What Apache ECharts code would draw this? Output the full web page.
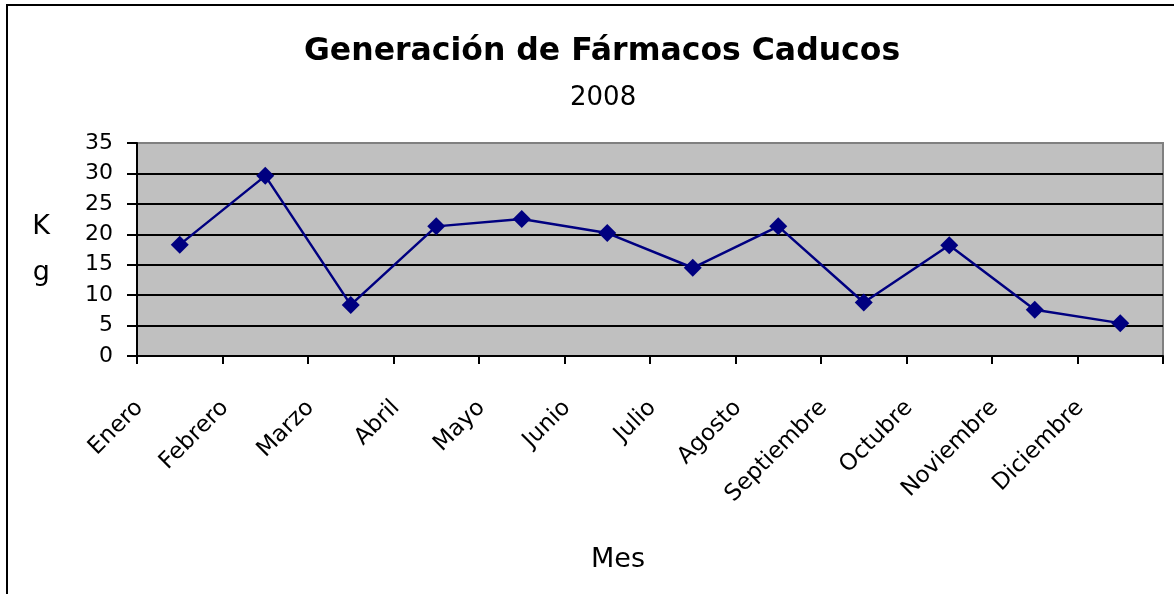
<!DOCTYPE html>
<html>
<head>
<meta charset="utf-8">
<script src="https://cdn.jsdelivr.net/npm/echarts@6/dist/echarts.min.js"></script>
<style>
  html, body { margin: 0; padding: 0; background: #fff; }
  #chart { width: 1174px; height: 594px; }
</style>
</head>
<body>
<div id="chart"></div>
<script>
// datos
var months = ['Enero', 'Febrero', 'Marzo', 'Abril', 'Mayo', 'Junio', 'Julio', 'Agosto', 'Septiembre', 'Octubre', 'Noviembre', 'Diciembre'];
var kgValues = [18.3, 29.6, 8.4, 21.3, 22.5, 20.2, 14.5, 21.3, 8.8, 18.2, 7.6, 5.4];
var yMin = 0;
var yMax = 35;
var yStep = 5;

var chart = echarts.init(document.getElementById('chart'));

var font = 'DejaVu Sans';

var option = {
    backgroundColor: '#fff',
    animation: false,
    title: [{
        text: 'Generación de Fármacos Caducos',
        left: 299,
        top: 31,
        textStyle: { fontFamily: font, fontSize: 31.5, fontWeight: 'bold', color: '#000' }
    }, {
        text: '2008',
        left: 565,
        top: 80,
        textStyle: { fontFamily: font, fontSize: 26, fontWeight: 'normal', color: '#000' }
    }],
    // marco exterior
    graphic: [{
        type: 'rect',
        shape: { x: 7, y: 5, width: 1300, height: 700 },
        style: { fill: 'none', stroke: '#000', lineWidth: 2 },
        silent: true
    }],
    grid: {
        left: 137,
        right: 11,
        top: 143,
        bottom: 238,
        show: true,
        backgroundColor: '#c0c0c0',
        borderColor: '#808080',
        borderWidth: 2
    },
    xAxis: {
        type: 'category',
        data: months,
        boundaryGap: true,
        name: 'Mes',
        nameLocation: 'middle',
        nameGap: 190,
        nameTextStyle: { fontFamily: font, fontSize: 27, color: '#000', padding: [0, 64, 0, 0] },
        axisLine: { lineStyle: { color: '#000', width: 2 } },
        axisTick: { show: true, length: 8, lineStyle: { color: '#000', width: 2 } },
        axisLabel: {
            interval: 0,
            rotate: 45,
            margin: 8,
            padding: [0, 57, 11, 0],
            fontFamily: font,
            fontSize: 23,
            color: '#000'
        }
    },
    yAxis: {
        type: 'value',
        min: yMin,
        max: yMax,
        interval: yStep,
        name: 'K\ng',
        nameLocation: 'middle',
        nameRotate: 0,
        nameGap: 87,
        nameTextStyle: { fontFamily: font, fontSize: 27, color: '#000', lineHeight: 46 },
        axisLine: { show: true, lineStyle: { color: '#000', width: 2 } },
        axisTick: { show: true, length: 10, lineStyle: { color: '#000', width: 2 } },
        axisLabel: { margin: 24, fontFamily: font, fontSize: 22, color: '#000' },
        splitLine: {
            show: true,
            lineStyle: {
                color: ['#000', '#000', '#000', '#000', '#000', '#000', '#000', '#808080'],
                width: 2
            }
        }
    },
    series: [{
        name: 'Kg',
        type: 'line',
        data: kgValues,
        symbol: 'diamond',
        symbolSize: 18,
        lineStyle: { color: '#000080', width: 2.5 },
        itemStyle: { color: '#000080' }
    }]
};

chart.setOption(option);
</script>
</body>
</html>
